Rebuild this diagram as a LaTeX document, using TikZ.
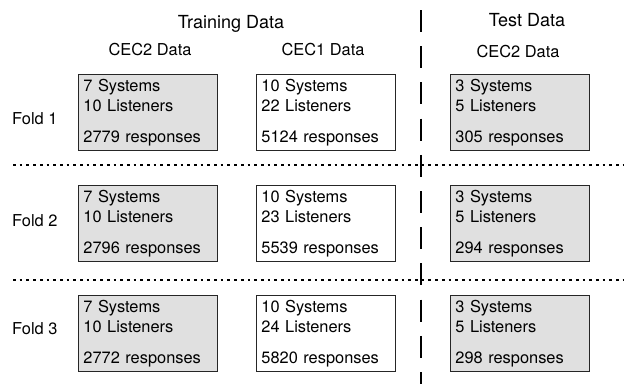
\documentclass[tikz,border=0pt]{standalone}
\usepackage{fontspec}
\setmainfont{TeX Gyre Heros}

\begin{document}
\begin{tikzpicture}[x=1pt, y=-1pt,
	txt/.style={inner sep=0pt, font=\fontsize{16.4}{20}\selectfont},
	head/.style={anchor=base, inner sep=0pt, font=\fontsize{18}{22}\selectfont},
	subhead/.style={txt, anchor=base},
	foldlabel/.style={txt, anchor=base west},
	databox/.style={txt, draw=black!85, line width=0.9pt, anchor=north west,
		minimum width=139pt, minimum height=76pt, text width=129pt,
		inner xsep=5pt, align=left},
	cectwo/.style={databox, fill=black!12},
	cecone/.style={databox, fill=white},
	foldsep/.style={line width=1.3pt, dash pattern=on 2.7pt off 4pt},
	splitline/.style={line width=2pt, dash pattern=on 22pt off 14.2pt}]
	\useasboundingbox (0,0) rectangle (624,384);

	% column headers
	\node[head] (train) at (231,28) {Training Data};
	\node[head] (test) at (527,26) {Test Data};
	\node[subhead] (h1) at (150,55) {CEC2 Data};
	\node[subhead] (h2) at (323,55) {CEC1 Data};
	\node[subhead] (h3) at (518,57) {CEC2 Data};

	% fold 1
	\node[foldlabel] (fold1) at (12,124) {Fold 1};
	\node[cectwo] (tr1a) at (78,74) {7 Systems\\10 Listeners\\[11pt]2779 responses};
	\node[cecone] (tr1b) at (256,74) {10 Systems\\22 Listeners\\[11pt]5124 responses};
	\node[cectwo] (te1) at (450,74) {3 Systems\\5 Listeners\\[11pt]305 responses};

	% fold 2
	\node[foldlabel] (fold2) at (12,226) {Fold 2};
	\node[cectwo] (tr2a) at (78,185) {7 Systems\\10 Listeners\\[11pt]2796 responses};
	\node[cecone] (tr2b) at (256,185) {10 Systems\\23 Listeners\\[11pt]5539 responses};
	\node[cectwo] (te2) at (450,185) {3 Systems\\5 Listeners\\[11pt]294 responses};

	% fold 3
	\node[foldlabel] (fold3) at (12,334) {Fold 3};
	\node[cectwo] (tr3a) at (78,295) {7 Systems\\10 Listeners\\[11pt]2772 responses};
	\node[cecone] (tr3b) at (256,295) {10 Systems\\24 Listeners\\[11pt]5820 responses};
	\node[cectwo] (te3) at (450,295) {3 Systems\\5 Listeners\\[11pt]298 responses};

	% fold separators and train/test split
	\draw[foldsep] (13,165) -- (624,165);
	\draw[foldsep] (13,280) -- (624,280);
	\draw[splitline] (421,10) -- (421,384);
\end{tikzpicture}
\end{document}
